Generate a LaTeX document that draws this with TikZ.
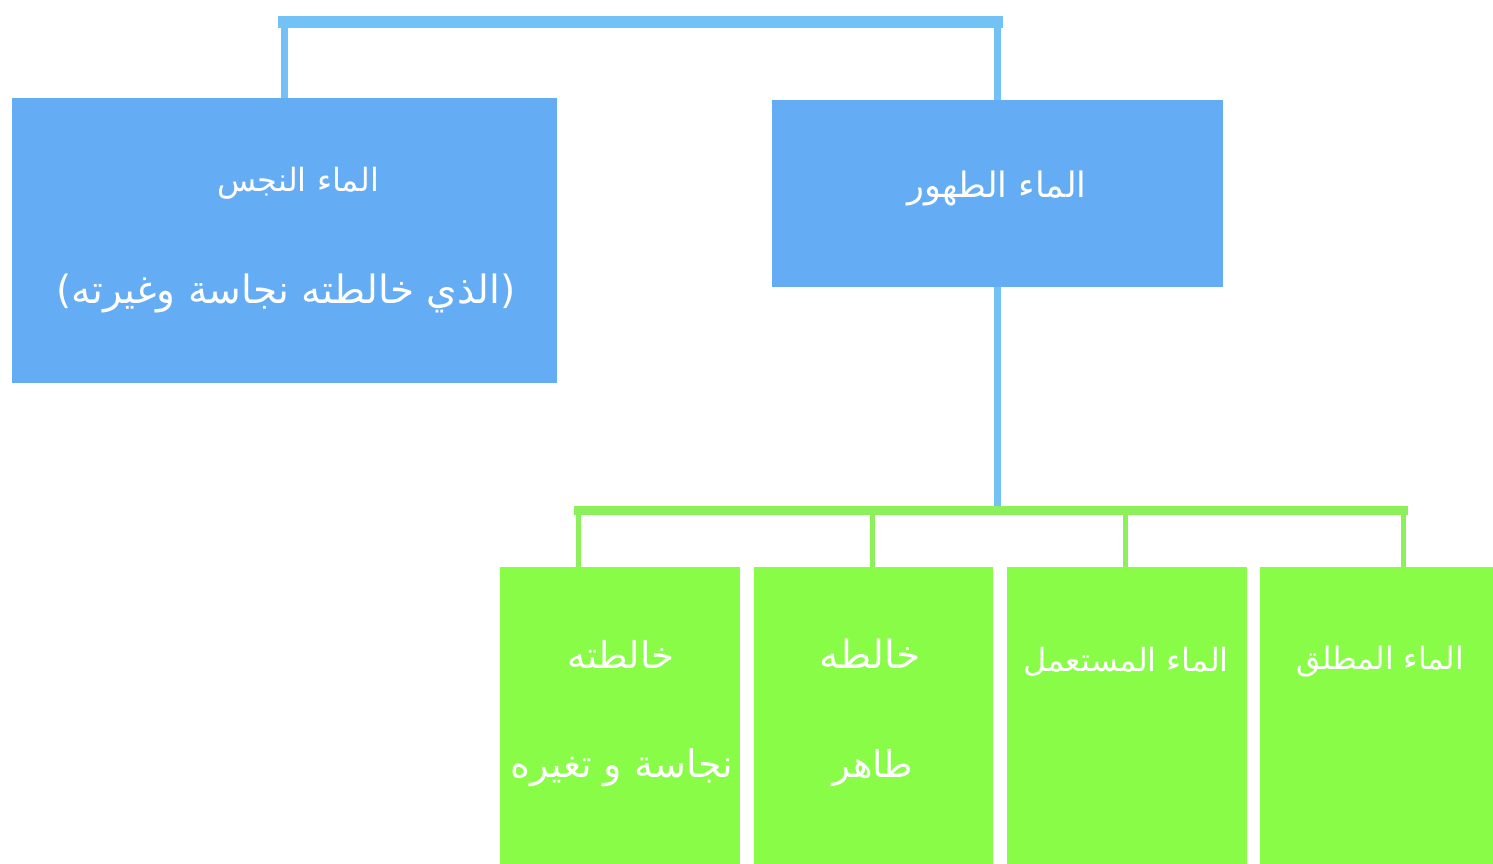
\documentclass[tikz,border=0pt]{standalone}
\usepackage{fontspec}
\newfontfamily\arabicfont[Script=Arabic]{DejaVu Sans}
\TeXXeTstate=1
\definecolor{boxblue}{RGB}{100,172,243}
\definecolor{lineblue}{RGB}{114,194,246}
\definecolor{boxgreen}{RGB}{136,252,70}
\definecolor{linegreen}{RGB}{140,240,90}
\newcommand{\ar}[1]{\beginR #1\endR}
\begin{document}
\begin{tikzpicture}[x=1pt,y=-1pt,
  bluebox/.style={fill=boxblue, draw=none, inner sep=0pt},
  greenbox/.style={fill=boxgreen, draw=none, inner sep=0pt},
  artext/.style={text=white, inner sep=0pt, align=center, font=\arabicfont\fontsize{#1}{#1}\selectfont},
  artext/.default=34,
  bluev/.style={draw=lineblue, line width=7pt},
  blueh/.style={draw=lineblue, line width=12pt},
  greenv/.style={draw=linegreen, line width=5pt},
  greenh/.style={draw=linegreen, line width=9pt}]
\useasboundingbox (0,0) rectangle (1493,864);
\clip (0,0) rectangle (1493,864);
\fill[white] (0,0) rectangle (1493,864);

% connector points
\coordinate (topl) at (284,22);
\coordinate (topr) at (997,22);
\coordinate (bar) at (997,510);
\coordinate (b1) at (578,510);
\coordinate (b2) at (872,510);
\coordinate (b3) at (1125,510);
\coordinate (b4) at (1403,510);

% boxes
\node[bluebox, minimum width=545, minimum height=285] (nj) at (284.5,240.5) {};
\node[bluebox, minimum width=451, minimum height=187] (th) at (997,193.5) {};
\node[greenbox, minimum width=240, minimum height=303] (g1) at (620,718.5) {};
\node[greenbox, minimum width=239, minimum height=303] (g2) at (873.5,718.5) {};
\node[greenbox, minimum width=240, minimum height=303] (g3) at (1127,718.5) {};
\node[greenbox, minimum width=240, minimum height=303] (g4) at (1380,718.5) {};

% blue connectors
\draw[bluev] (nj.north) -- (nj.north |- topl);
\draw[bluev] (th.north) -- (th.north |- topr);
\draw[blueh, line cap=rect] (topl) -- (topr);
\draw[bluev] (th.south) -- (th.south |- bar);
% green connectors
\draw[greenh, line cap=rect] (b1) -- (b4);
\draw[greenv] (b1) -- (b1 |- g1.north);
\draw[greenv] (b2) -- (b2 |- g2.north);
\draw[greenv] (b3) -- (b3 |- g3.north);
\draw[greenv] (b4) -- (b4 |- g4.north);

% texts
\node[artext=32] (njt1) at (298,183) {\ar{الماء النجس}};
\node[artext=39] (njt2) at (286,293) {\ar{(الذي خالطته نجاسة وغيرته)}};
\node[artext=35] (tht) at (997,188) {\ar{الماء الطهور}};
\node[artext=37] (g1t1) at (621,654) {\ar{خالطته}};
\node[artext=38] (g1t2) at (622,768) {\ar{نجاسة و تغيره}};
\node[artext=39] (g2t1) at (870,654) {\ar{خالطه}};
\node[artext=37] (g2t2) at (873,768) {\ar{طاهر}};
\node[artext=32] (g3t) at (1126,662) {\ar{الماء المستعمل}};
\node[artext=31] (g4t) at (1380,662) {\ar{الماء المطلق}};
\end{tikzpicture}
\end{document}
